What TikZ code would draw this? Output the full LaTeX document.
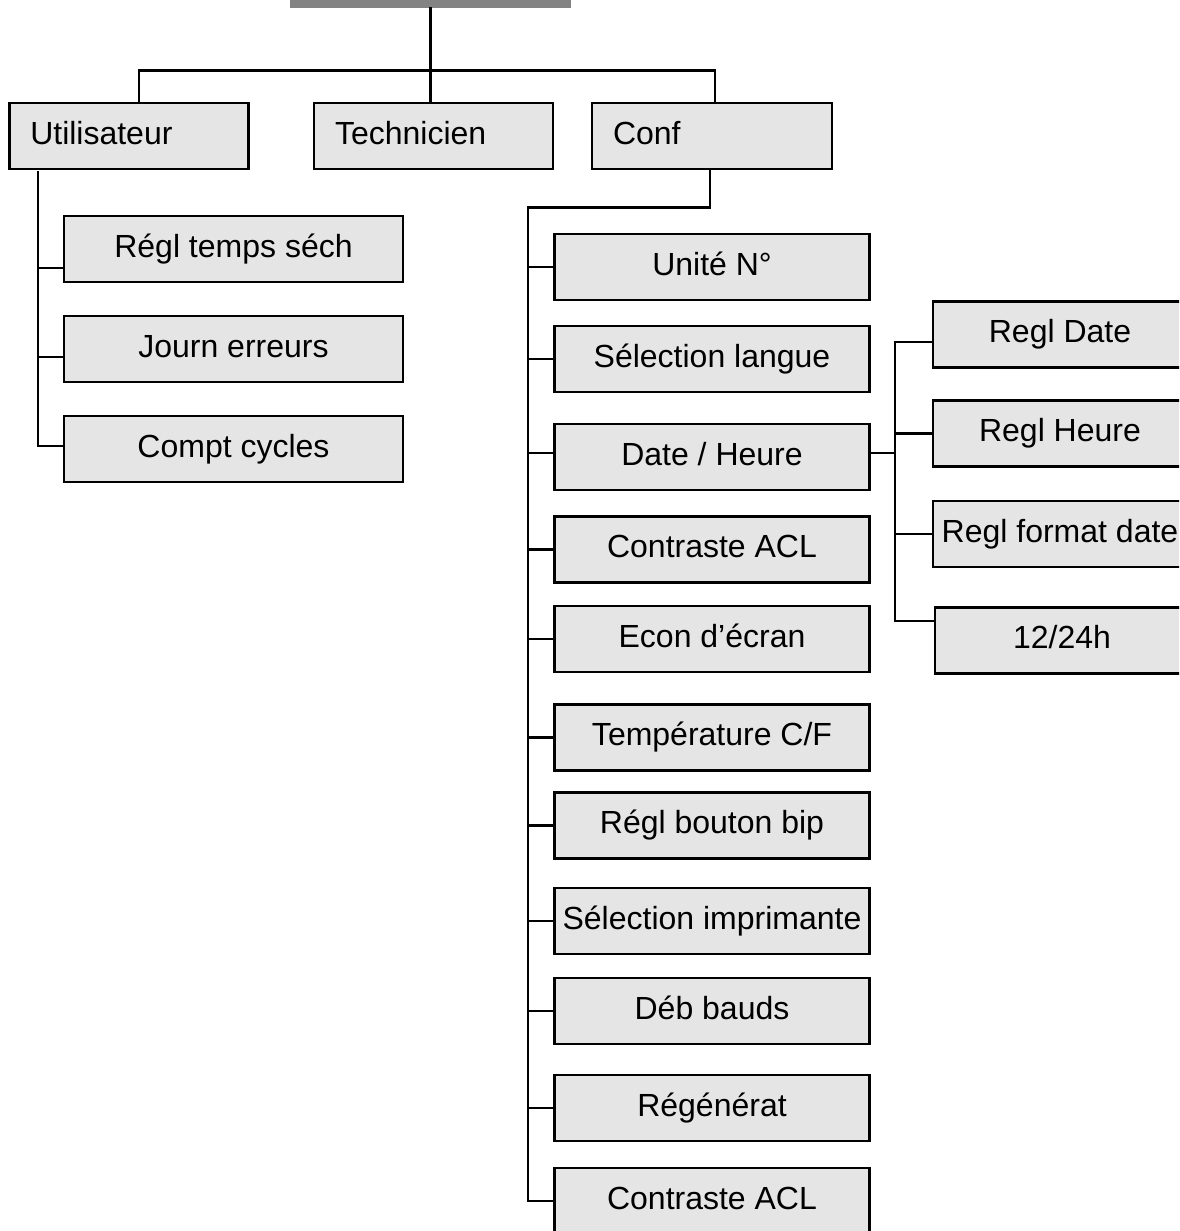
\documentclass[tikz,border=0pt]{standalone}
\usepackage{fontspec}
\setmainfont{Liberation Sans}
\definecolor{boxgray}{HTML}{E5E5E5}
\definecolor{bargray}{HTML}{838383}
\tikzset{
  box/.style={draw=black, line width=2.8pt, fill=boxgray, rectangle, inner sep=0pt,
    minimum height=66pt, text height=22pt, text depth=6pt,
    font=\fontsize{32}{38}\selectfont},
  lbox/.style={box, inner xsep=21pt, align=left, text width=#1},
  conn/.style={line width=2.8pt, line cap=rect},
}
\begin{document}
\begin{tikzpicture}[x=1pt,y=-1pt]
\useasboundingbox (0,0) rectangle (1179,1231);
\clip (0,0) rectangle (1179,1231);

% root bar
\node[fill=bargray, inner sep=0pt, minimum width=281pt, minimum height=16pt] (root) at (430.5,0) {};

% top level
\node[lbox=197.5pt] (util) at (129,136) {Utilisateur};
\node[lbox=197pt] (tech) at (433.5,136) {Technicien};
\node[lbox=198pt] (conf) at (712,136) {Conf};

% Utilisateur children
\node[box, minimum width=339pt] (u1) at (233.5,249) {Régl temps séch};
\node[box, minimum width=339pt] (u2) at (233.5,349) {Journ erreurs};
\node[box, minimum width=339pt] (u3) at (233.5,449) {Compt cycles};

% Conf children
\node[box, minimum width=315pt] (k1) at (712,267) {Unité N°};
\node[box, minimum width=315pt] (k2) at (712,359) {Sélection langue};
\node[box, minimum width=315pt] (k3) at (712,457) {Date / Heure};
\node[box, minimum width=315pt] (k4) at (712,549.5) {Contraste ACL};
\node[box, minimum width=315pt] (k5) at (712,639) {Econ d’écran};
\node[box, minimum width=315pt] (k6) at (712,737.5) {Température C/F};
\node[box, minimum width=315pt] (k7) at (712,825.5) {Régl bouton bip};
\node[box, minimum width=315pt] (k8) at (712,921) {Sélection imprimante};
\node[box, minimum width=315pt] (k9) at (712,1011) {Déb bauds};
\node[box, minimum width=315pt] (k10) at (712,1108) {Régénérat};
\node[box, minimum width=315pt] (k11) at (712,1201) {Contraste ACL};

% Date / Heure children
\node[box, minimum width=254pt] (d1) at (1060,334.5) {Regl Date};
\node[box, minimum width=254pt] (d2) at (1060,433.5) {Regl Heure};
\node[box, minimum width=254pt] (d3) at (1060,534) {Regl format date};
\node[box, minimum width=254pt] (d4) at (1062,640.5) {12/24h};

% helper coordinates for vertical rails
\coordinate (lv) at (38,172);
\coordinate (mv) at (528,0);
\coordinate (sv) at (895,0);

% connectors top
\draw[conn] (root.south) -- (root.south |- tech.north);
\draw[conn] ([xshift=10pt]util.north) -- ++(0,-31) -| ([xshift=3pt]conf.north);

% Utilisateur subtree
\draw[conn] (lv) |- ([yshift=-19pt]u1.west);
\draw[conn] (lv) |- ([yshift=-8pt]u2.west);
\draw[conn] (lv) |- ([yshift=3pt]u3.west);

% Conf subtree
\draw[conn] ([xshift=-2pt]conf.south) -- ++(0,37) -| (k11.west -| mv) -- (k11.west);
\foreach \k in {k1,k2,k4,k5,k6,k7,k8,k9,k10}{
  \draw[conn] (\k.west) -- (\k.west -| mv);
}
\draw[conn] ([yshift=4pt]k3.west) -- ([yshift=4pt]k3.west -| mv);

% Date / Heure subtree
\draw[conn] ([yshift=4pt]k3.east) -- ([yshift=4pt]k3.east -| sv);
\draw[conn] ([yshift=-7.5pt]d1.west) -- ([yshift=-7.5pt]d1.west -| sv)
  -- ([yshift=19.5pt]d4.west -| sv) -- ([yshift=19.5pt]d4.west);
\draw[conn] (d2.west) -- (d2.west -| sv);
\draw[conn] (d3.west) -- (d3.west -| sv);
\end{tikzpicture}
\end{document}
